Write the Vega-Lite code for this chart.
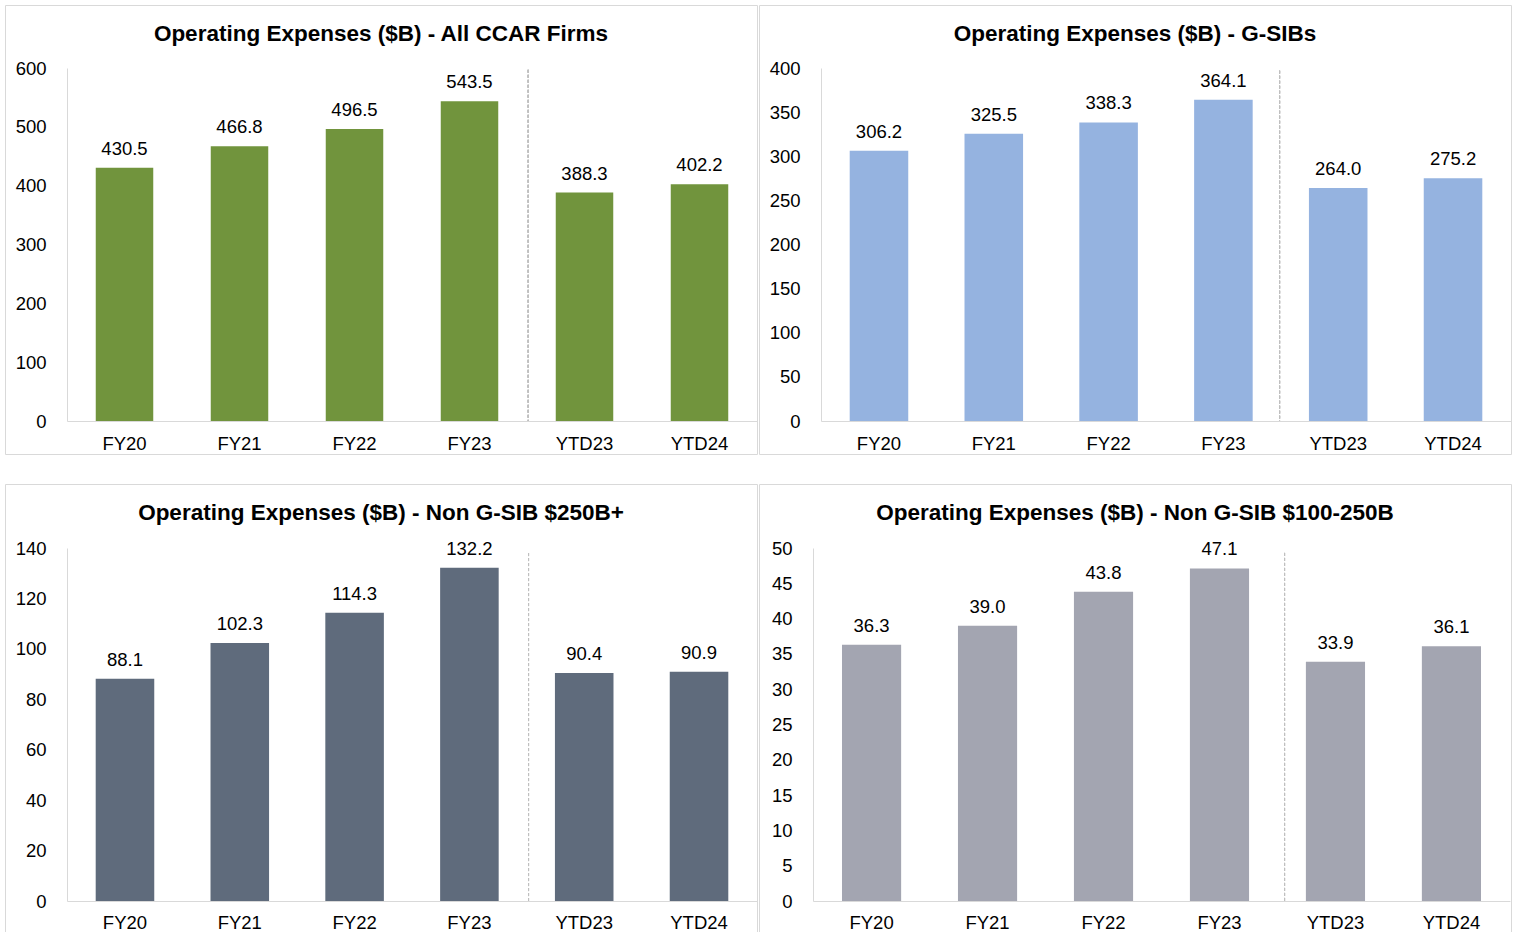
{
  "$schema": "https://vega.github.io/schema/vega-lite/v6.json",
  "padding": {"left": 4, "top": 4, "right": 5, "bottom": 5},
  "bounds": "flush",
  "spacing": {"row": 30, "column": 2},
  "columns": 2,
  "background": "white",
  "config": {
    "font": "Liberation Sans",
    "view": {"stroke": "#d9d9d9", "strokeWidth": 1},
    "axis": {"labelFont": "Liberation Sans", "labelFontSize": 18.5, "labelColor": "#000000", "ticks": false, "grid": false, "title": null, "domainColor": "#d9d9d9", "domainWidth": 1, "labelFlush": false, "labelOverlap": false},
    "title": {"font": "Liberation Sans", "fontSize": 22.5, "fontWeight": "bold", "color": "#000000", "anchor": "middle", "frame": "group", "baseline": "alphabetic", "offset": -40}
  },
  "data": {"values": [
    {"panel": "A", "cat": "FY20", "value": 430.5},
    {"panel": "A", "cat": "FY21", "value": 466.8},
    {"panel": "A", "cat": "FY22", "value": 496.5},
    {"panel": "A", "cat": "FY23", "value": 543.5},
    {"panel": "A", "cat": "YTD23", "value": 388.3},
    {"panel": "A", "cat": "YTD24", "value": 402.2},
    {"panel": "B", "cat": "FY20", "value": 306.2},
    {"panel": "B", "cat": "FY21", "value": 325.5},
    {"panel": "B", "cat": "FY22", "value": 338.3},
    {"panel": "B", "cat": "FY23", "value": 364.1},
    {"panel": "B", "cat": "YTD23", "value": 264.0},
    {"panel": "B", "cat": "YTD24", "value": 275.2},
    {"panel": "C", "cat": "FY20", "value": 88.1},
    {"panel": "C", "cat": "FY21", "value": 102.3},
    {"panel": "C", "cat": "FY22", "value": 114.3},
    {"panel": "C", "cat": "FY23", "value": 132.2},
    {"panel": "C", "cat": "YTD23", "value": 90.4},
    {"panel": "C", "cat": "YTD24", "value": 90.9},
    {"panel": "D", "cat": "FY20", "value": 36.3},
    {"panel": "D", "cat": "FY21", "value": 39.0},
    {"panel": "D", "cat": "FY22", "value": 43.8},
    {"panel": "D", "cat": "FY23", "value": 47.1},
    {"panel": "D", "cat": "YTD23", "value": 33.9},
    {"panel": "D", "cat": "YTD24", "value": 36.1}
  ]},
  "concat": [
    {
      "width": 752, "height": 449,
      "title": "Operating Expenses ($B) - All CCAR Firms",
      "transform": [{"filter": "datum.panel === 'A'"}],
      "layer": [
        {
          "mark": {"type": "bar", "color": "#71943d"},
          "encoding": {
            "x": {"field": "cat", "type": "nominal", "sort": null, "scale": {"range": [62, 752], "paddingInner": 0.5, "paddingOuter": 0.25}, "axis": {"orient": "bottom", "offset": -33, "labelAngle": 0, "labelPadding": 13}},
            "y": {"field": "value", "type": "quantitative", "scale": {"domain": [0, 600], "range": [416, 63], "nice": false, "zero": true}, "axis": {"orient": "left", "offset": -62, "values": [0, 100, 200, 300, 400, 500, 600], "labelPadding": 21}}
          }
        },
        {
          "mark": {"type": "text", "fontSize": 18.5, "color": "#000000", "baseline": "alphabetic", "dy": -13},
          "encoding": {
            "x": {"field": "cat", "type": "nominal", "sort": null},
            "y": {"field": "value", "type": "quantitative"},
            "text": {"field": "value", "type": "quantitative", "format": ".1f"}
          }
        },
        {
          "mark": {"type": "rule", "color": "#bfbfbf", "strokeDash": [3, 2], "strokeWidth": 1},
          "encoding": {
            "x": {"datum": "FY23", "type": "nominal", "bandPosition": 1.52},
            "y": {"datum": 597, "type": "quantitative"},
            "y2": {"datum": 0}
          }
        }
      ]
    },
    {
      "width": 752, "height": 449,
      "title": "Operating Expenses ($B) - G-SIBs",
      "transform": [{"filter": "datum.panel === 'B'"}],
      "layer": [
        {
          "mark": {"type": "bar", "color": "#95b3e0"},
          "encoding": {
            "x": {"field": "cat", "type": "nominal", "sort": null, "scale": {"range": [62, 752], "paddingInner": 0.49, "paddingOuter": 0.25}, "axis": {"orient": "bottom", "offset": -33, "labelAngle": 0, "labelPadding": 13}},
            "y": {"field": "value", "type": "quantitative", "scale": {"domain": [0, 400], "range": [416, 63], "nice": false, "zero": true}, "axis": {"orient": "left", "offset": -62, "values": [0, 50, 100, 150, 200, 250, 300, 350, 400], "labelPadding": 21}}
          }
        },
        {
          "mark": {"type": "text", "fontSize": 18.5, "color": "#000000", "baseline": "alphabetic", "dy": -13},
          "encoding": {
            "x": {"field": "cat", "type": "nominal", "sort": null},
            "y": {"field": "value", "type": "quantitative"},
            "text": {"field": "value", "type": "quantitative", "format": ".1f"}
          }
        },
        {
          "mark": {"type": "rule", "color": "#bfbfbf", "strokeDash": [3, 2], "strokeWidth": 1},
          "encoding": {
            "x": {"datum": "FY23", "type": "nominal", "bandPosition": 1.46},
            "y": {"datum": 397, "type": "quantitative"},
            "y2": {"datum": 0}
          }
        }
      ]
    },
    {
      "width": 752, "height": 449,
      "title": "Operating Expenses ($B) - Non G-SIB $250B+",
      "transform": [{"filter": "datum.panel === 'C'"}],
      "layer": [
        {
          "mark": {"type": "bar", "color": "#5f6b7c"},
          "encoding": {
            "x": {"field": "cat", "type": "nominal", "sort": null, "scale": {"range": [62, 752], "paddingInner": 0.49, "paddingOuter": 0.25}, "axis": {"orient": "bottom", "offset": -32, "labelAngle": 0, "labelPadding": 12}},
            "y": {"field": "value", "type": "quantitative", "scale": {"domain": [0, 140], "range": [417, 64], "nice": false, "zero": true}, "axis": {"orient": "left", "offset": -62, "values": [0, 20, 40, 60, 80, 100, 120, 140], "labelPadding": 21}}
          }
        },
        {
          "mark": {"type": "text", "fontSize": 18.5, "color": "#000000", "baseline": "alphabetic", "dy": -13},
          "encoding": {
            "x": {"field": "cat", "type": "nominal", "sort": null},
            "y": {"field": "value", "type": "quantitative"},
            "text": {"field": "value", "type": "quantitative", "format": ".1f"}
          }
        },
        {
          "mark": {"type": "rule", "color": "#bfbfbf", "strokeDash": [3, 2], "strokeWidth": 1},
          "encoding": {
            "x": {"datum": "FY23", "type": "nominal", "bandPosition": 1.51},
            "y": {"datum": 138, "type": "quantitative"},
            "y2": {"datum": 0}
          }
        }
      ]
    },
    {
      "width": 752, "height": 449,
      "title": "Operating Expenses ($B) - Non G-SIB $100-250B",
      "transform": [{"filter": "datum.panel === 'D'"}],
      "layer": [
        {
          "mark": {"type": "bar", "color": "#a3a5b1"},
          "encoding": {
            "x": {"field": "cat", "type": "nominal", "sort": null, "scale": {"range": [54, 751], "paddingInner": 0.49, "paddingOuter": 0.25}, "axis": {"orient": "bottom", "offset": -32, "labelAngle": 0, "labelPadding": 12}},
            "y": {"field": "value", "type": "quantitative", "scale": {"domain": [0, 50], "range": [417, 64], "nice": false, "zero": true}, "axis": {"orient": "left", "offset": -54, "values": [0, 5, 10, 15, 20, 25, 30, 35, 40, 45, 50], "labelPadding": 21}}
          }
        },
        {
          "mark": {"type": "text", "fontSize": 18.5, "color": "#000000", "baseline": "alphabetic", "dy": -13},
          "encoding": {
            "x": {"field": "cat", "type": "nominal", "sort": null},
            "y": {"field": "value", "type": "quantitative"},
            "text": {"field": "value", "type": "quantitative", "format": ".1f"}
          }
        },
        {
          "mark": {"type": "rule", "color": "#bfbfbf", "strokeDash": [3, 2], "strokeWidth": 1},
          "encoding": {
            "x": {"datum": "FY23", "type": "nominal", "bandPosition": 1.6},
            "y": {"datum": 49.3, "type": "quantitative"},
            "y2": {"datum": 0}
          }
        }
      ]
    }
  ]
}
